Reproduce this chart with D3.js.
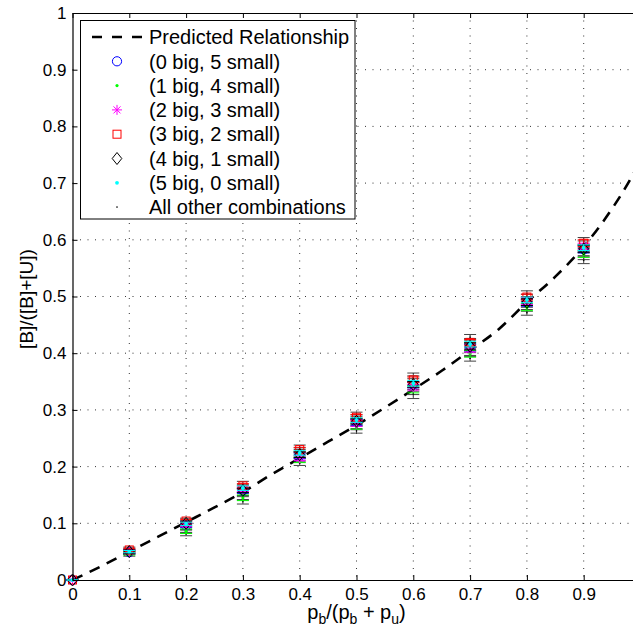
<!DOCTYPE html>
<html>
<head>
<meta charset="utf-8">
<script src="https://cdn.jsdelivr.net/npm/d3@7"></script>
<style>
  body { margin: 0; background: #fff; }
  svg { display: block; font-family: "Liberation Sans", Arial, Helvetica, sans-serif; }
</style>
</head>
<body>
<svg></svg>
<script>
// x positions of the measured points
let xs = [0, 0.1, 0.2, 0.3, 0.4, 0.5, 0.6, 0.7, 0.8, 0.9];

// one value list per combination
let big0 = [0, 0.049, 0.096, 0.157, 0.219, 0.278, 0.344, 0.410, 0.489, 0.583];
let big1 = [0, 0.047, 0.086, 0.145, 0.212, 0.271, 0.336, 0.399, 0.481, 0.575];
let big2 = [0, 0.050, 0.098, 0.160, 0.215, 0.276, 0.340, 0.407, 0.492, 0.588];
let big3 = [0, 0.053, 0.104, 0.166, 0.230, 0.287, 0.353, 0.419, 0.499, 0.594];
let big4 = [0, 0.050, 0.100, 0.158, 0.221, 0.280, 0.345, 0.412, 0.490, 0.584];
let big5 = [0, 0.050, 0.099, 0.162, 0.224, 0.282, 0.347, 0.416, 0.494, 0.586];

let err0 = [0, 0.003, 0.004, 0.004, 0.005, 0.005, 0.005, 0.006, 0.006, 0.006];
let err1 = [0, 0.003, 0.004, 0.005, 0.005, 0.005, 0.006, 0.006, 0.006, 0.006];
let err2 = [0, 0.003, 0.004, 0.004, 0.004, 0.005, 0.005, 0.005, 0.006, 0.006];
let err3 = [0, 0.003, 0.003, 0.004, 0.004, 0.005, 0.005, 0.005, 0.005, 0.006];
let err4 = [0, 0.003, 0.004, 0.004, 0.005, 0.005, 0.005, 0.006, 0.006, 0.006];
let err5 = [0, 0.002, 0.003, 0.004, 0.004, 0.004, 0.005, 0.005, 0.005, 0.005];

// all other combinations: several values at each x
let others = [
  [0, 0, 0, 0, 0, 0],
  [0.044, 0.047, 0.049, 0.051, 0.053, 0.056],
  [0.081, 0.086, 0.091, 0.096, 0.101, 0.106],
  [0.138, 0.145, 0.151, 0.158, 0.164, 0.170],
  [0.206, 0.212, 0.218, 0.223, 0.229, 0.234],
  [0.263, 0.269, 0.275, 0.281, 0.287, 0.292],
  [0.328, 0.335, 0.341, 0.347, 0.352, 0.357],
  [0.391, 0.399, 0.406, 0.414, 0.421, 0.428],
  [0.472, 0.479, 0.486, 0.493, 0.499, 0.505],
  [0.564, 0.571, 0.578, 0.585, 0.592, 0.598]
];
let othersErr = [0, 0.002, 0.003, 0.004, 0.004, 0.004, 0.008, 0.005, 0.005, 0.006];

// predicted relationship
let curveX = [0, 0.05, 0.1, 0.15, 0.2, 0.25, 0.3, 0.35, 0.4, 0.45, 0.5, 0.55, 0.6, 0.65, 0.7, 0.75, 0.8, 0.85, 0.9, 0.95, 0.98, 1];
let curveY = [0, 0.024, 0.05, 0.076, 0.102, 0.128, 0.155, 0.186, 0.215, 0.244, 0.273, 0.304, 0.336, 0.369, 0.405, 0.442, 0.49, 0.535, 0.588, 0.655, 0.703, 0.74];

let xTicks = [0, 0.1, 0.2, 0.3, 0.4, 0.5, 0.6, 0.7, 0.8, 0.9, 1];
let xTickLabels = ['0', '0.1', '0.2', '0.3', '0.4', '0.5', '0.6', '0.7', '0.8', '0.9', ''];
let yTicks = [0, 0.1, 0.2, 0.3, 0.4, 0.5, 0.6, 0.7, 0.8, 0.9, 1];
let yTickLabels = ['0', '0.1', '0.2', '0.3', '0.4', '0.5', '0.6', '0.7', '0.8', '0.9', '1'];

let legendLabels = [
  'Predicted Relationship',
  '(0 big, 5 small)',
  '(1 big, 4 small)',
  '(2 big, 3 small)',
  '(3 big, 2 small)',
  '(4 big, 1 small)',
  '(5 big, 0 small)',
  'All other combinations'
];

let width = 633;
let height = 630;
let padLeft = 72.5;
let padRight = 640.5;
let padTop = 13;
let padBottom = 580;

let svg = d3.select('svg')
  .attr('width', width)
  .attr('height', height)

let xScale = d3.scaleLinear().domain([0, 1]).range([padLeft, padRight]);
let yScale = d3.scaleLinear().domain([0, 1]).range([padBottom, padTop]);

let series = [
  { values: big0, err: err0, color: '#0000ff', shape: 'circle' },
  { values: big1, err: err1, color: '#00ff00', shape: 'dot' },
  { values: big2, err: err2, color: '#ff00ff', shape: 'star' },
  { values: big3, err: err3, color: '#ff0000', shape: 'square' },
  { values: big4, err: err4, color: '#000000', shape: 'diamond' },
  { values: big5, err: err5, color: '#00ffff', shape: 'cdot' }
];

let drawMarker = (g, shape, color) => {
  if (shape === 'circle') {
    g.append('circle').attr('r', 4.6).attr('fill', 'none').attr('stroke', color).attr('stroke-width', 1);
  } else if (shape === 'dot') {
    g.append('circle').attr('r', 1.6).attr('fill', color);
  } else if (shape === 'cdot') {
    g.append('circle').attr('r', 1.9).attr('fill', color);
  } else if (shape === 'odot') {
    g.append('circle').attr('r', 0.8).attr('fill', color);
  } else if (shape === 'square') {
    g.append('rect').attr('x', -4).attr('y', -4).attr('width', 8).attr('height', 8)
      .attr('fill', 'none').attr('stroke', color).attr('stroke-width', 1);
  } else if (shape === 'diamond') {
    g.append('path').attr('d', 'M0,-6L4.8,0L0,6L-4.8,0Z')
      .attr('fill', 'none').attr('stroke', color).attr('stroke-width', 1);
  } else if (shape === 'star') {
    g.append('path').attr('d', 'M0,-5V5M-5,0H5M-3.5,-3.5L3.5,3.5M-3.5,3.5L3.5,-3.5')
      .attr('stroke', color).attr('stroke-width', 1);
  }
}

let drawErrorBar = (g, x, y, e, color) => {
  let px = xScale(x);
  let y0 = yScale(y - e);
  let y1 = yScale(y + e);
  let cap = 6;
  g.append('path')
    .attr('d', `M${px},${y0}V${y1}M${px - cap},${y0}H${px + cap}M${px - cap},${y1}H${px + cap}`)
    .attr('fill', 'none')
    .attr('stroke', color)
    .attr('stroke-width', 1)
}

let drawGrid = () => {
  let grid = svg.append('g').attr('class', 'grid');
  grid.selectAll('.gx')
    .data(xTicks.filter(d => d > 0 && d < 1))
    .enter()
    .append('line')
    .attr('class', 'gx')
    .attr('x1', d => xScale(d)).attr('x2', d => xScale(d))
    .attr('y1', padTop).attr('y2', padBottom)
  grid.selectAll('.gy')
    .data(yTicks.filter(d => d > 0 && d < 1))
    .enter()
    .append('line')
    .attr('class', 'gy')
    .attr('y1', d => yScale(d)).attr('y2', d => yScale(d))
    .attr('x1', padLeft).attr('x2', padRight)
  grid.selectAll('line')
    .attr('stroke', '#333')
    .attr('stroke-width', 1)
    .attr('stroke-dasharray', '1,6.5')
}

let drawCurve = () => {
  let line = d3.line()
    .x((d, i) => xScale(curveX[i]))
    .y(d => yScale(d))
    .curve(d3.curveMonotoneX);
  svg.append('path')
    .datum(curveY)
    .attr('d', line)
    .attr('fill', 'none')
    .attr('stroke', '#000')
    .attr('stroke-width', 2.6)
    .attr('stroke-dasharray', '11,8')
}

let drawPoints = () => {
  let pts = svg.append('g').attr('class', 'points');

  others.forEach((vals, i) => {
    vals.forEach((v) => {
      drawErrorBar(pts, xs[i], v, othersErr[i], '#444');
    })
  })
  others.forEach((vals, i) => {
    vals.forEach((v) => {
      let g = pts.append('g').attr('transform', `translate(${xScale(xs[i])},${yScale(v)})`);
      drawMarker(g, 'odot', '#000');
    })
  })

  series.forEach((s) => {
    s.values.forEach((v, i) => {
      drawErrorBar(pts, xs[i], v, s.err[i], s.color);
      let g = pts.append('g').attr('transform', `translate(${xScale(xs[i])},${yScale(v)})`);
      drawMarker(g, s.shape, s.color);
    })
  })
}

let drawAxis = () => {
  let xAxis = d3.axisBottom(xScale).tickValues(xTicks)
    .tickFormat((d, i) => xTickLabels[i])
    .tickSizeInner(-5).tickSizeOuter(0).tickPadding(8);
  let xTop = d3.axisTop(xScale).tickValues(xTicks).tickFormat('')
    .tickSizeInner(-5).tickSizeOuter(0);
  let yAxis = d3.axisLeft(yScale).tickValues(yTicks)
    .tickFormat((d, i) => yTickLabels[i])
    .tickSizeInner(-5).tickSizeOuter(0).tickPadding(6);
  let yRight = d3.axisRight(yScale).tickValues(yTicks).tickFormat('')
    .tickSizeInner(-5).tickSizeOuter(0);

  svg.append('g').attr('id', 'x-axis').attr('transform', `translate(0, ${padBottom})`).call(xAxis)
  svg.append('g').attr('transform', `translate(0, ${padTop})`).call(xTop)
  svg.append('g').attr('id', 'y-axis').attr('transform', `translate(${padLeft}, 0)`).call(yAxis)
  svg.append('g').attr('transform', `translate(${padRight}, 0)`).call(yRight)

  svg.selectAll('.domain').attr('stroke', '#000').attr('stroke-width', 1.2)
  svg.selectAll('.tick line').attr('stroke', '#000')
  svg.selectAll('.tick text')
    .attr('fill', '#000')
    .style('font-size', '17px')
    .style('font-family', '"Liberation Sans", Arial, sans-serif')

  // axis labels
  let xl = svg.append('text')
    .attr('x', 356.5)
    .attr('y', 619)
    .attr('text-anchor', 'middle')
    .attr('xml:space', 'preserve')
    .style('font-size', '20px')
  let parts = [['p', 0], ['b', 1], ['/(p', 0], ['b', 1], [' + p', 0], ['u', 1], [')', 0]];
  let shifted = false;
  parts.forEach(([t, sub]) => {
    let dy = 0;
    if (sub && !shifted) { dy = 5; shifted = true; }
    else if (!sub && shifted) { dy = -5; shifted = false; }
    xl.append('tspan')
      .attr('dy', dy)
      .style('font-size', sub ? '14px' : '20px')
      .style('white-space', 'pre')
      .text(t)
  })

  svg.append('text')
    .attr('transform', 'translate(33, 299) rotate(-90)')
    .attr('text-anchor', 'middle')
    .style('font-size', '19px')
    .text('[B]/([B]+[U])')
}

let drawLegend = () => {
  let lg = svg.append('g').attr('class', 'legend');
  lg.append('rect')
    .attr('x', 80.5).attr('y', 20.5)
    .attr('width', 274.5).attr('height', 198.5)
    .attr('fill', '#fff')
    .attr('stroke', '#000')
    .attr('stroke-width', 1)

  let rowY = (i) => 37 + i * 24.3;

  lg.append('line')
    .attr('x1', 92).attr('x2', 142)
    .attr('y1', rowY(0)).attr('y2', rowY(0))
    .attr('stroke', '#000')
    .attr('stroke-width', 2.6)
    .attr('stroke-dasharray', '10,10')

  series.forEach((s, i) => {
    let g = lg.append('g').attr('transform', `translate(117, ${rowY(i + 1)})`);
    drawMarker(g, s.shape, s.color);
  })
  let g = lg.append('g').attr('transform', `translate(117, ${rowY(7)})`);
  drawMarker(g, 'odot', '#000');

  lg.selectAll('.ltext')
    .data(legendLabels)
    .enter()
    .append('text')
    .attr('class', 'ltext')
    .attr('x', 149)
    .attr('y', (d, i) => rowY(i))
    .attr('dy', '0.36em')
    .style('font-size', '20px')
    .text(d => d)
}

drawGrid()
drawCurve()
drawPoints()
drawAxis()
drawLegend()
</script>
</body>
</html>
